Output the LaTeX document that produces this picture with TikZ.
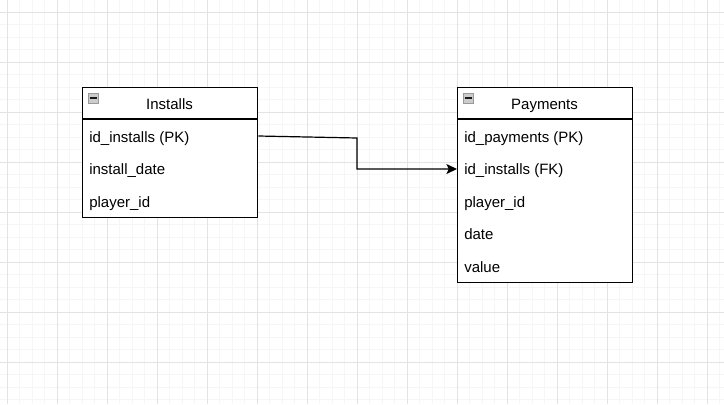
\documentclass[tikz,border=0pt]{standalone}
\usepackage{fontspec}
\setmainfont{Liberation Sans}
\usetikzlibrary{arrows.meta}

\tikzset{
    tablebox/.style={draw, line width=1pt, inner sep=0pt, anchor=north west},
    title/.style={anchor=base, inner sep=0pt, font=\fontsize{11.25}{13}\selectfont},
    field/.style={anchor=base west, inner sep=0pt, font=\fontsize{11.25}{13}\selectfont},
    fold/.style={draw=gray!80, fill=gray!40, line width=0.7pt, minimum size=7.5pt, inner sep=0pt},
}

\begin{document}
\begin{tikzpicture}[x=0.75pt, y=-0.75pt]
    \useasboundingbox (0,0) rectangle (724,404);
    \fill[white] (0,0) rectangle (724,404);

    % Grid
    \foreach \k in {0,...,57} \draw[gray!7, line width=0.75pt] ({7+12.5*\k},0) -- ({7+12.5*\k},404);
    \foreach \k in {-1,...,31} \draw[gray!7, line width=0.75pt] (0,{12+12.5*\k}) -- (724,{12+12.5*\k});
    \foreach \k in {0,...,14} \draw[gray!22, line width=0.75pt] ({7+50*\k},0) -- ({7+50*\k},404);
    \foreach \k in {0,...,7} \draw[gray!22, line width=0.75pt] (0,{12+50*\k}) -- (724,{12+50*\k});

    % Tables
    \node[tablebox, fill=white, minimum width=131.25pt, minimum height=97.5pt] (installs) at (82,87) {};
    \node[tablebox, fill=white, minimum width=131.25pt, minimum height=146.25pt] (payments) at (457,87) {};
    \draw[line width=1pt] (82,119) -- (257,119);
    \draw[line width=1pt] (457,119) -- (632,119);

    % Headers
    \node[fold] (installs-fold) at (93,98) {};
    \draw[line width=1.3pt, gray!20!black] (89.5,98) -- (96.5,98);
    \node[fold] (payments-fold) at (468,98) {};
    \draw[line width=1.3pt, gray!20!black] (464.5,98) -- (471.5,98);
    \node[title] (installs-title) at (169.5,109) {Installs};
    \node[title] (payments-title) at (544.5,109) {Payments};

    % Fields
    \foreach \txt [count=\i] in {id\_installs (PK), install\_date, player\_id}
        \node[field] (inst\i) at (89,{109.5+32.5*\i}) {\txt};
    \foreach \txt [count=\i] in {id\_payments (PK), id\_installs (FK), player\_id, date, value}
        \node[field] (pay\i) at (464,{109.5+32.5*\i}) {\txt};

    % Relation
    \coordinate (bend) at (357,138);
    \draw[line width=0.9pt, -{Stealth[length=8pt, width=7.5pt, inset=1.8pt]}]
        (installs.east |- 0,136) -- (bend) -- (bend |- 0,169) -- (payments.west |- 0,169);
\end{tikzpicture}
\end{document}
